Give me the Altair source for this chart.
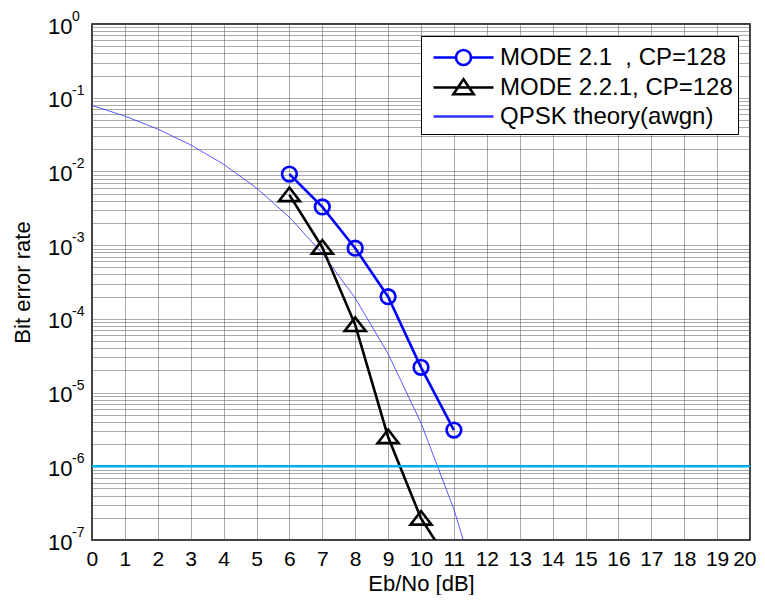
import altair as alt
import pandas as pd

FONT = "Liberation Sans"

# ---------------- data ----------------
ebno_mode21 = [6, 7, 8, 9, 10, 11]
ber_mode21 = [9.2e-3, 3.3e-3, 9.1e-4, 2.0e-4, 2.2e-5, 3.1e-6]

ebno_mode221 = [6, 7, 8, 9, 10, 11]
ber_mode221 = [4.8e-3, 9.3e-4, 8.3e-5, 2.5e-6, 1.96e-7, 4.0e-8]

ebno_theory = [0, 1, 2, 3, 4, 5, 6, 7, 8, 9, 10, 11, 12]
ber_theory = [7.86e-2, 5.63e-2, 3.75e-2, 2.29e-2, 1.25e-2, 5.95e-3, 2.39e-3,
              7.73e-4, 1.91e-4, 3.36e-5, 3.87e-6, 2.61e-7, 9.0e-9]

threshold_ber = [1e-6]

series_names = ["MODE 2.1\u00a0\u00a0, CP=128", "MODE 2.2.1, CP=128", "QPSK theory(awgn)"]
series_colors = ["#0000FF", "#000000", "#3030FF"]
series_widths = [2.6, 2.6, 0.8]

x_ticks = list(range(0, 21))
decade_exps = list(range(-7, 1))

# ---------------- tables ----------------
def table(xs, ys, name):
    return pd.DataFrame({"ebno": xs, "ber": ys, "series": [name] * len(xs)})

df21 = table(ebno_mode21, ber_mode21, series_names[0])
df221 = table(ebno_mode221, ber_mode221, series_names[1])
dfth = table(ebno_theory, ber_theory, series_names[2])
df_all = pd.concat([df21, df221, dfth], ignore_index=True)

exp_df = pd.DataFrame({"ber": [10.0 ** e for e in decade_exps],
                       "t": [str(e) for e in decade_exps]})
thr_df = pd.DataFrame({"ber": threshold_ber})

y_grid_values = [m * 10.0 ** e for e in range(-7, 0) for m in range(1, 10)] + [1.0]

GRID_COLOR = "#555555"
GRID_DASH = [1, 1]

xscale = alt.Scale(domain=[0, 20], nice=False, zero=False)
yscale = alt.Scale(type="log", domain=[1e-7, 1], nice=False)

xaxis = alt.Axis(values=x_ticks, grid=True, ticks=False, tickSize=0, domain=False,
                 labelFontSize=21, labelPadding=8, labelFont=FONT, labelColor="black",
                 labelFlush=True, labelFlushOffset=6, labelOverlap=False, format="d",
                 title="Eb/No [dB]", titleFont=FONT, titleFontSize=22,
                 titleFontWeight="normal", titleColor="black",
                 titleX=329, titleY=50, titleBaseline="alphabetic", titleAlign="center",
                 gridColor=GRID_COLOR, gridDash=GRID_DASH, gridWidth=1)

yaxis = alt.Axis(values=y_grid_values,
                 labelExpr="abs(log(datum.value)/LN10 - round(log(datum.value)/LN10)) < 0.001 ? '10' : ''",
                 grid=True, ticks=False, tickSize=0, domain=False,
                 labelFontSize=22, labelPadding=20, labelOffset=2, labelFont=FONT,
                 labelColor="black", labelOverlap=False, labelFlush=False,
                 title="Bit error rate", titleFont=FONT, titleFontSize=22,
                 titleFontWeight="normal", titleColor="black",
                 titleX=-70, titleY=258, titleAngle=270, titleBaseline="middle",
                 titleAlign="center",
                 gridColor=GRID_COLOR, gridDash=GRID_DASH, gridWidth=1)


def X():
    return alt.X("ebno:Q", scale=xscale, axis=xaxis)


def Y():
    return alt.Y("ber:Q", scale=yscale, axis=yaxis)


theory_line = alt.Chart(dfth).mark_line(clip=True, color=series_colors[2],
                                        strokeWidth=series_widths[2]).encode(x=X(), y=Y())
line21 = alt.Chart(df21).mark_line(clip=True, color=series_colors[0],
                                   strokeWidth=series_widths[0]).encode(x=X(), y=Y())
line221 = alt.Chart(df221).mark_line(clip=True, color=series_colors[1],
                                     strokeWidth=series_widths[1]).encode(x=X(), y=Y())

pts21 = alt.Chart(df21).mark_point(filled=False, clip=True, opacity=1, strokeWidth=2.6,
                                   shape="circle", size=215, color=series_colors[0]).encode(x=X(), y=Y())
TRI_PLOT = "M0,-0.74L1.05,0.62L-1.05,0.62Z"
pts221 = alt.Chart(df221).mark_point(filled=False, clip=True, opacity=1, strokeWidth=2.6,
                                     shape=TRI_PLOT, size=400, color=series_colors[1]).encode(x=X(), y=Y())

threshold = alt.Chart(thr_df).mark_rule(color="#00AEEF", strokeWidth=2.5).encode(y=Y())

exponents = alt.Chart(exp_df).mark_text(align="left", baseline="alphabetic", dy=-3,
                                        fontSize=14, font=FONT, color="black").encode(
    x=alt.value(-20), y=Y(), text="t:N")

legend_paths = [
    "M-2,0H-0.5A0.5,0.5 0 1,0 0.5,0A0.5,0.5 0 1,0 -0.5,0M0.5,0H2",
    "M-2,0H2M-0.68,0.45L0,-0.55L0.68,0.45Z",
    "M-2,0H2",
]
leg = alt.Legend(title=None, orient="none", legendX=329, legendY=12,
                 symbolSize=900, labelFontSize=24, labelFont=FONT, labelColor="black",
                 labelOffset=20, symbolOffset=21, padding=5, rowPadding=0,
                 strokeColor="black", fillColor="white", labelLimit=500,
                 symbolOpacity=1,
                 labelExpr="datum.label + '\u00a0'")

legend_layer = alt.Chart(df_all).mark_point(filled=False, opacity=1).encode(
    color=alt.Color("series:N", scale=alt.Scale(domain=series_names, range=series_colors), legend=leg),
    shape=alt.Shape("series:N", scale=alt.Scale(domain=series_names, range=legend_paths), legend=leg),
    strokeWidth=alt.StrokeWidth("series:O", scale=alt.Scale(domain=series_names, range=series_widths), legend=leg),
).transform_filter("false")

chart = alt.layer(theory_line, line21, line221, pts21, pts221, threshold, exponents,
                  legend_layer).properties(
    width=658, height=516,
    autosize=alt.AutoSizeParams(type="none"),
    padding={"left": 84, "top": 16, "right": 7, "bottom": 55},
    background="white",
).configure_view(stroke="black", strokeWidth=1.5)

chart.save("out.html", embed_options={"renderer": "svg", "actions": False})
